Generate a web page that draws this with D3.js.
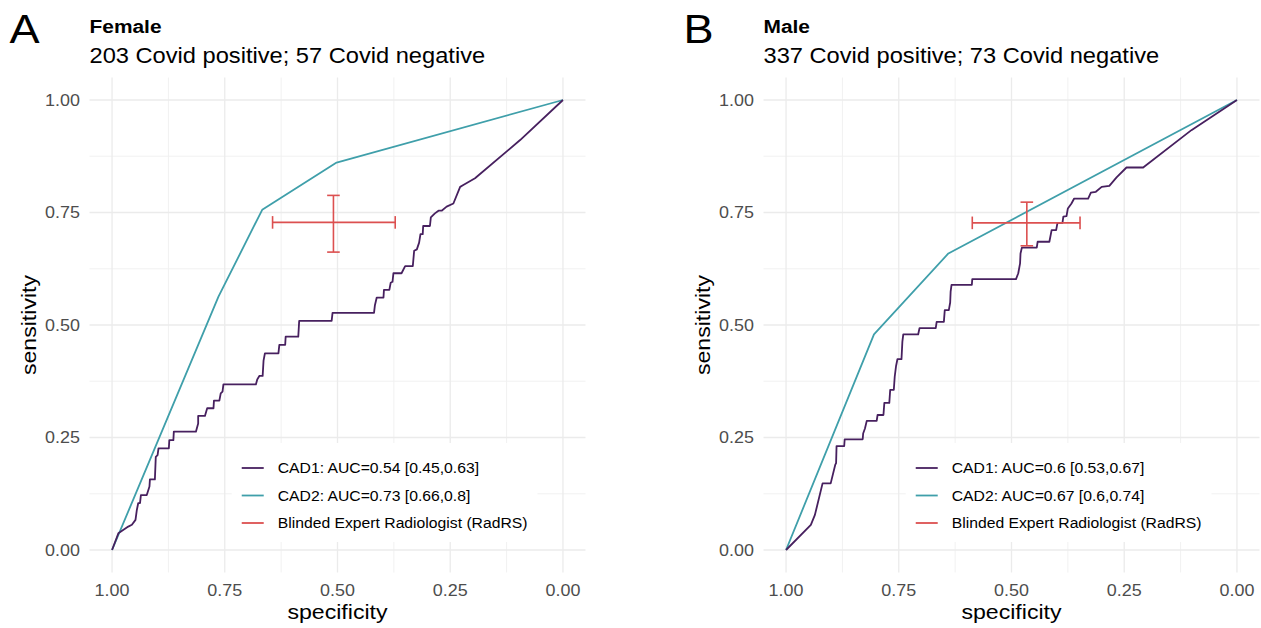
<!DOCTYPE html>
<html>
<head>
	<meta charset="utf-8">
	<title>ROC curves by sex</title>
	<script src="https://d3js.org/d3.v7.min.js"></script>
	<style>
		body { margin: 0; background: #fff; }
		text { font-family: "Liberation Sans", Arial, Helvetica, sans-serif; }
	</style>
</head>
<body>
	<div id="chart"></div>
	<script>
		// Data: [specificity, sensitivity]
		var femaleCad1 = [
			[1, 0], [0.986, 0.037], [0.964, 0.052], [0.956, 0.056], [0.948, 0.067], [0.945, 0.089],
			[0.942, 0.104], [0.938, 0.104], [0.936, 0.122], [0.923, 0.122], [0.917, 0.141], [0.916, 0.157],
			[0.905, 0.157], [0.903, 0.207], [0.899, 0.211], [0.897, 0.226], [0.874, 0.226], [0.873, 0.244],
			[0.864, 0.244], [0.863, 0.263], [0.814, 0.263], [0.809, 0.281], [0.809, 0.298], [0.794, 0.298],
			[0.789, 0.315], [0.775, 0.315], [0.774, 0.332], [0.762, 0.332], [0.759, 0.348], [0.755, 0.352],
			[0.753, 0.368], [0.681, 0.368], [0.678, 0.379], [0.673, 0.387], [0.666, 0.387], [0.664, 0.421],
			[0.661, 0.437], [0.631, 0.437], [0.629, 0.456], [0.616, 0.456], [0.615, 0.474], [0.587, 0.474],
			[0.585, 0.509], [0.513, 0.509], [0.511, 0.527], [0.419, 0.527], [0.417, 0.544], [0.413, 0.561],
			[0.398, 0.561], [0.397, 0.578], [0.385, 0.578], [0.382, 0.594], [0.378, 0.596], [0.376, 0.615],
			[0.358, 0.615], [0.350, 0.631], [0.333, 0.631], [0.330, 0.665], [0.324, 0.668], [0.319, 0.683],
			[0.316, 0.702], [0.311, 0.702], [0.310, 0.720], [0.295, 0.720], [0.293, 0.739], [0.284, 0.748],
			[0.276, 0.754], [0.269, 0.754], [0.258, 0.763], [0.243, 0.770], [0.228, 0.807], [0.221, 0.811],
			[0.195, 0.826], [0.095, 0.911], [0, 1]
		];
		var femaleCad2 = [[1, 0], [0.764, 0.563], [0.667, 0.756], [0.502, 0.861], [0, 1]];
		var femaleRad = { spec: 0.509, specLo: 0.372, specHi: 0.644, sens: 0.728, sensLo: 0.662, sensHi: 0.788 };

		var maleCad1 = [
			[1, 0], [0.945, 0.056], [0.936, 0.078], [0.919, 0.148], [0.901, 0.148], [0.891, 0.189],
			[0.889, 0.193], [0.888, 0.231], [0.871, 0.231], [0.870, 0.246], [0.830, 0.246], [0.829, 0.259],
			[0.825, 0.270], [0.821, 0.287], [0.799, 0.287], [0.797, 0.300], [0.784, 0.300], [0.782, 0.327],
			[0.771, 0.327], [0.769, 0.356], [0.761, 0.356], [0.759, 0.385], [0.756, 0.409], [0.753, 0.424],
			[0.744, 0.424], [0.742, 0.463], [0.740, 0.479], [0.707, 0.479], [0.704, 0.493], [0.668, 0.493],
			[0.666, 0.507], [0.650, 0.507], [0.648, 0.533], [0.639, 0.533], [0.636, 0.550], [0.635, 0.574],
			[0.633, 0.589], [0.588, 0.589], [0.587, 0.602], [0.490, 0.602], [0.485, 0.615], [0.481, 0.637],
			[0.480, 0.659], [0.477, 0.672], [0.444, 0.672], [0.442, 0.685], [0.416, 0.685], [0.411, 0.711],
			[0.401, 0.711], [0.398, 0.727], [0.387, 0.727], [0.385, 0.741], [0.378, 0.742], [0.375, 0.759],
			[0.367, 0.770], [0.361, 0.781], [0.330, 0.781], [0.324, 0.794], [0.313, 0.796], [0.300, 0.807],
			[0.283, 0.809], [0.267, 0.828], [0.245, 0.850], [0.208, 0.850], [0.101, 0.933], [0, 1]
		];
		var maleCad2 = [[1, 0], [0.805, 0.479], [0.640, 0.659], [0, 1]];
		var maleRad = { spec: 0.466, specLo: 0.348, specHi: 0.587, sens: 0.727, sensLo: 0.676, sensHi: 0.773 };

		var tickValues = [0, 0.25, 0.5, 0.75, 1];
		var tickLabels = ["0.00", "0.25", "0.50", "0.75", "1.00"];
		var minorValues = [0.125, 0.375, 0.625, 0.875];

		var panels = [
			{ tag: "A", title: "Female", subtitle: "203 Covid positive; 57 Covid negative",
			  cad1: femaleCad1, cad2: femaleCad2, rad: femaleRad,
			  legend: ["CAD1: AUC=0.54 [0.45,0.63]", "CAD2: AUC=0.73 [0.66,0.8]", "Blinded Expert Radiologist (RadRS)"] },
			{ tag: "B", title: "Male", subtitle: "337 Covid positive; 73 Covid negative",
			  cad1: maleCad1, cad2: maleCad2, rad: maleRad,
			  legend: ["CAD1: AUC=0.6 [0.53,0.67]", "CAD2: AUC=0.67 [0.6,0.74]", "Blinded Expert Radiologist (RadRS)"] }
		];

		var colors = ["#47205f", "#3f9faa", "#dc5050"];

		// Layout
		var W = 1261, H = 628;
		var SX = 1.1; // text in the reference is a bit wider than Liberation Sans
		var panelW = 496, panelTop = 77.5, panelBottom = 572.5;
		var panelLefts = [89.5, 763.5];

		var svg = d3.select("#chart").append("svg")
			.attr("width", W).attr("height", H);

		function txt(g, x, y, s, size, opts) {
			opts = opts || {};
			var t = g.append("text")
				.attr("transform", "translate(" + x + "," + y + ")" + (opts.rot ? " rotate(" + opts.rot + ")" : "") + " scale(" + SX + ",1)")
				.attr("font-size", size)
				.attr("fill", opts.fill || "#000")
				.attr("font-weight", opts.bold ? "bold" : null)
				.attr("text-anchor", opts.anchor || "start")
				.text(s);
			return t;
		}

		panels.forEach(function(p, i) {
			var left = panelLefts[i];
			var g = svg.append("g");

			var x = d3.scaleLinear().domain([1.05, -0.05]).range([left, left + panelW]);
			var y = d3.scaleLinear().domain([-0.05, 1.05]).range([panelBottom, panelTop]);

			// grid
			g.selectAll(".minx").data(minorValues).enter().append("line")
				.attr("x1", d => x(d)).attr("x2", d => x(d))
				.attr("y1", panelTop).attr("y2", panelBottom)
				.attr("stroke", "#efefef").attr("stroke-width", 0.9);
			g.selectAll(".miny").data(minorValues).enter().append("line")
				.attr("y1", d => y(d)).attr("y2", d => y(d))
				.attr("x1", left).attr("x2", left + panelW)
				.attr("stroke", "#efefef").attr("stroke-width", 0.9);
			g.selectAll(".majx").data(tickValues).enter().append("line")
				.attr("x1", d => x(d)).attr("x2", d => x(d))
				.attr("y1", panelTop).attr("y2", panelBottom)
				.attr("stroke", "#ebebeb").attr("stroke-width", 1.3);
			g.selectAll(".majy").data(tickValues).enter().append("line")
				.attr("y1", d => y(d)).attr("y2", d => y(d))
				.attr("x1", left).attr("x2", left + panelW)
				.attr("stroke", "#ebebeb").attr("stroke-width", 1.3);

			// tick labels
			tickValues.forEach(function(v, k) {
				txt(g, left - 9.5, y(v) + 5.8, tickLabels[k], 16.3, { anchor: "end", fill: "#4d4d4d" });
				txt(g, x(v), 596, tickLabels[k], 16.3, { anchor: "middle", fill: "#4d4d4d" });
			});

			// axis titles
			txt(g, left + panelW / 2, 619, "specificity", 21, { anchor: "middle" });
			txt(g, left - 53.5, (panelTop + panelBottom) / 2, "sensitivity", 21, { anchor: "middle", rot: -90 });

			// titles
			txt(g, left - 80, 43, p.tag, 41);
			txt(g, left, 33, p.title, 19, { bold: true });
			txt(g, left, 63, p.subtitle, 21.5);

			// curves
			var line = d3.line().x(d => x(d[0])).y(d => y(d[1]));
			g.append("path").datum(p.cad2)
				.attr("fill", "none").attr("stroke", colors[1]).attr("stroke-width", 1.8)
				.attr("stroke-linejoin", "round").attr("d", line);
			g.append("path").datum(p.cad1)
				.attr("fill", "none").attr("stroke", colors[0]).attr("stroke-width", 1.8)
				.attr("stroke-linejoin", "round").attr("d", line);

			// radiologist error bars
			var r = p.rad, cap = 6.3;
			var eb = g.append("g").attr("stroke", colors[2]).attr("stroke-width", 1.6).attr("fill", "none");
			eb.append("line").attr("x1", x(r.specLo)).attr("x2", x(r.specHi)).attr("y1", y(r.sens)).attr("y2", y(r.sens));
			eb.append("line").attr("x1", x(r.specLo)).attr("x2", x(r.specLo)).attr("y1", y(r.sens) - cap).attr("y2", y(r.sens) + cap);
			eb.append("line").attr("x1", x(r.specHi)).attr("x2", x(r.specHi)).attr("y1", y(r.sens) - cap).attr("y2", y(r.sens) + cap);
			eb.append("line").attr("x1", x(r.spec)).attr("x2", x(r.spec)).attr("y1", y(r.sensLo)).attr("y2", y(r.sensHi));
			eb.append("line").attr("x1", x(r.spec) - cap).attr("x2", x(r.spec) + cap).attr("y1", y(r.sensLo)).attr("y2", y(r.sensLo));
			eb.append("line").attr("x1", x(r.spec) - cap).attr("x2", x(r.spec) + cap).attr("y1", y(r.sensHi)).attr("y2", y(r.sensHi));

			// legend
			var lg = g.append("g");
			var bg = lg.append("rect").attr("fill", "#fff");
			var maxW = 0;
			p.legend.forEach(function(s, k) {
				var ry = 25 + k * 27.5;
				lg.append("line").attr("x1", 10).attr("x2", 32).attr("y1", ry).attr("y2", ry)
					.attr("stroke", colors[k]).attr("stroke-width", 1.8);
				var t = txt(lg, 46, ry + 5.2, s, 14.3);
				maxW = Math.max(maxW, t.node().getComputedTextLength() * SX);
			});
			var lw = 46 + maxW + 10, lh = 99;
			bg.attr("width", lw).attr("height", lh);
			var cx = left + 0.595 * panelW, cy = 492.5;
			lg.attr("transform", "translate(" + (cx - lw / 2) + "," + (cy - lh / 2) + ")");
		});
	</script>
</body>
</html>
